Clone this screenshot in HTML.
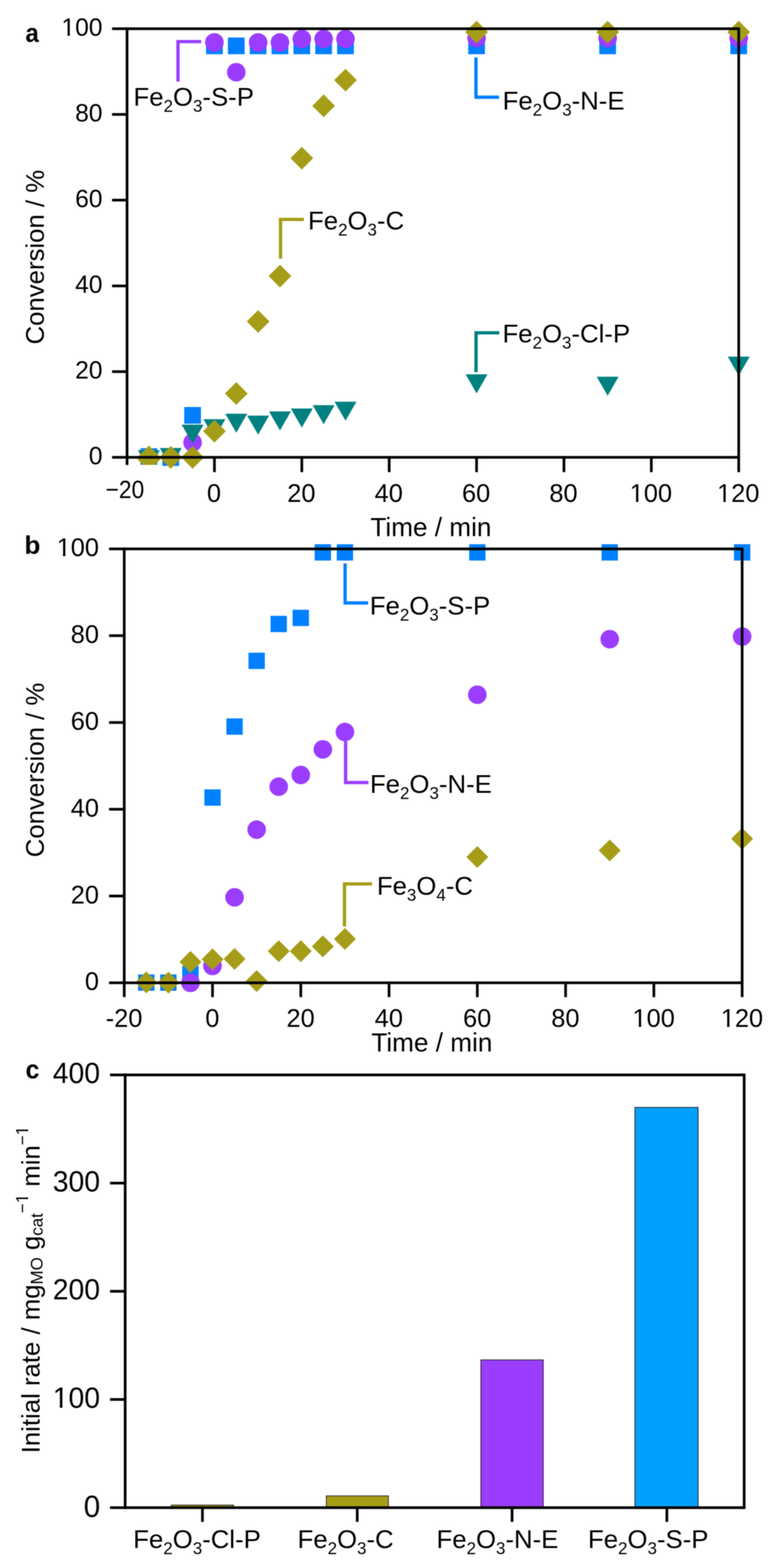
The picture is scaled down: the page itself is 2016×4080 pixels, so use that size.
<!DOCTYPE html>
<html><head><meta charset="utf-8"><title>Figure</title>
<style>html,body{margin:0;padding:0;background:#fff;}svg{display:block;filter:blur(0.8px);}text{font-family:'Liberation Sans', Arial, Helvetica, sans-serif;fill:#000;}</style></head><body>
<svg width="2016" height="4080" viewBox="0 0 2016 4080"><defs><clipPath id="f1c0" clipPathUnits="userSpaceOnUse"><path d="M-6000,-6000H6000V6000H-6000Z M162.63,86.52H175.71V95.50H162.63Z M181.77,86.52H194.51V95.50H181.77Z" clip-rule="evenodd"></path></clipPath><clipPath id="f1c1" clipPathUnits="userSpaceOnUse"><path d="M-6000,-6000H6000V6000H-6000Z M1640.94,1299.37H1654.43V1308.50H1640.94Z M1660.67,1299.37H1673.81V1308.50H1660.67Z" clip-rule="evenodd"></path></clipPath><clipPath id="f1c2" clipPathUnits="userSpaceOnUse"><path d="M-6000,-6000H6000V6000H-6000Z M1868.24,1299.37H1881.73V1308.50H1868.24Z M1887.97,1299.37H1901.11V1308.50H1887.97Z" clip-rule="evenodd"></path></clipPath><clipPath id="f1c3" clipPathUnits="userSpaceOnUse"><path d="M-6000,-6000H6000V6000H-6000Z M150.28,1441.17H163.77V1450.30H150.28Z M170.00,1441.17H183.15V1450.30H170.00Z" clip-rule="evenodd"></path></clipPath><clipPath id="f1c4" clipPathUnits="userSpaceOnUse"><path d="M-6000,-6000H6000V6000H-6000Z M1648.24,2666.17H1661.73V2675.30H1648.24Z M1667.97,2666.17H1681.11V2675.30H1667.97Z" clip-rule="evenodd"></path></clipPath><clipPath id="f1c5" clipPathUnits="userSpaceOnUse"><path d="M-6000,-6000H6000V6000H-6000Z M1877.86,2666.17H1891.35V2675.30H1877.86Z M1897.59,2666.17H1910.73V2675.30H1897.59Z" clip-rule="evenodd"></path></clipPath><clipPath id="f1c6" clipPathUnits="userSpaceOnUse"><path d="M-6000,-6000H6000V6000H-6000Z M-123.45,-6.88H-107.88V3.00H-123.45Z M-100.77,-6.88H-85.60V3.00H-100.77Z" clip-rule="evenodd"></path></clipPath><clipPath id="f1c7" clipPathUnits="userSpaceOnUse"><path d="M-6000,-6000H6000V6000H-6000Z M652.51,-34.49H661.44V-27.00H652.51Z M665.73,-34.49H674.43V-27.00H665.73Z M829.26,-34.49H838.19V-27.00H829.26Z M842.48,-34.49H851.18V-27.00H842.48Z" clip-rule="evenodd"></path></clipPath></defs>
<rect width="2016" height="4080" fill="#fff"></rect>
<g id="panel-a">
<rect x="365.57" y="1166.25" width="43.5" height="43.5" fill="#0080FF"></rect>
<rect x="422.4" y="1168.75" width="43.5" height="43.5" fill="#0080FF"></rect>
<rect x="479.22" y="1059.04" width="43.5" height="43.5" fill="#0080FF"></rect>
<rect x="536.05" y="97.57" width="43.5" height="43.5" fill="#0080FF"></rect>
<rect x="592.88" y="97.57" width="43.5" height="43.5" fill="#0080FF"></rect>
<rect x="649.7" y="97.57" width="43.5" height="43.5" fill="#0080FF"></rect>
<rect x="706.52" y="97.57" width="43.5" height="43.5" fill="#0080FF"></rect>
<rect x="763.35" y="97.57" width="43.5" height="43.5" fill="#0080FF"></rect>
<rect x="820.17" y="97.57" width="43.5" height="43.5" fill="#0080FF"></rect>
<rect x="877" y="97.57" width="43.5" height="43.5" fill="#0080FF"></rect>
<rect x="1217.95" y="97.57" width="43.5" height="43.5" fill="#0080FF"></rect>
<rect x="1558.9" y="97.57" width="43.5" height="43.5" fill="#0080FF"></rect>
<rect x="1899.85" y="97.57" width="43.5" height="43.5" fill="#0080FF"></rect>
<circle cx="500.97" cy="1151.51" r="24.2" fill="#9B3DFF"></circle>
<circle cx="557.8" cy="110.39" r="24.2" fill="#9B3DFF"></circle>
<circle cx="614.62" cy="187.91" r="24.2" fill="#9B3DFF"></circle>
<circle cx="671.45" cy="110.39" r="24.2" fill="#9B3DFF"></circle>
<circle cx="728.27" cy="110.39" r="24.2" fill="#9B3DFF"></circle>
<circle cx="785.1" cy="101.47" r="24.2" fill="#9B3DFF"></circle>
<circle cx="841.92" cy="101.47" r="24.2" fill="#9B3DFF"></circle>
<circle cx="898.75" cy="101.47" r="24.2" fill="#9B3DFF"></circle>
<circle cx="1239.7" cy="99.24" r="24.2" fill="#9B3DFF"></circle>
<circle cx="1580.65" cy="99.24" r="24.2" fill="#9B3DFF"></circle>
<circle cx="1921.6" cy="99.24" r="24.2" fill="#9B3DFF"></circle>
<polygon points="472.47,1105.1 529.47,1105.1 500.97,1154.6" fill="#008080"></polygon>
<polygon points="529.3,1090.8 586.3,1090.8 557.8,1140.3" fill="#008080"></polygon>
<polygon points="586.12,1076.5 643.12,1076.5 614.62,1126" fill="#008080"></polygon>
<polygon points="642.95,1081.5 699.95,1081.5 671.45,1131" fill="#008080"></polygon>
<polygon points="699.77,1070.6 756.77,1070.6 728.27,1120.1" fill="#008080"></polygon>
<polygon points="756.6,1063.1 813.6,1063.1 785.1,1112.6" fill="#008080"></polygon>
<polygon points="813.42,1054.2 870.42,1054.2 841.92,1103.7" fill="#008080"></polygon>
<polygon points="870.25,1045.3 927.25,1045.3 898.75,1094.8" fill="#008080"></polygon>
<polygon points="1211.2,974 1268.2,974 1239.7,1023.5" fill="#008080"></polygon>
<polygon points="1552.15,980.3 1609.15,980.3 1580.65,1029.8" fill="#008080"></polygon>
<polygon points="1893.1,928.1 1950.1,928.1 1921.6,977.6" fill="#008080"></polygon>
<polygon points="415.65,1165.7 472.65,1165.7 444.15,1215.2" fill="#008080"></polygon>
<polygon points="358.82,1171.6 415.82,1171.6 387.32,1221.1" fill="#008080"></polygon>
<polygon points="387.32,1165.8 416.92,1195.4 387.32,1225 357.72,1195.4" fill="#A59D18"></polygon>
<polygon points="387.32,1159.6 416.92,1189.2 387.32,1218.8 357.72,1189.2" fill="#A59D18"></polygon>
<polygon points="444.15,1160.5 473.75,1190.1 444.15,1219.7 414.55,1190.1" fill="#A59D18"></polygon>
<polygon points="500.97,1160.5 530.57,1190.1 500.97,1219.7 471.37,1190.1" fill="#A59D18"></polygon>
<polygon points="557.8,1092.46 587.4,1122.06 557.8,1151.66 528.2,1122.06" fill="#A59D18"></polygon>
<polygon points="614.62,994.31 644.23,1023.91 614.62,1053.51 585.02,1023.91" fill="#A59D18"></polygon>
<polygon points="671.45,806.92 701.05,836.52 671.45,866.12 641.85,836.52" fill="#A59D18"></polygon>
<polygon points="728.27,688.69 757.88,718.29 728.27,747.89 698.67,718.29" fill="#A59D18"></polygon>
<polygon points="785.1,381.95 814.7,411.55 785.1,441.15 755.5,411.55" fill="#A59D18"></polygon>
<polygon points="841.92,245.87 871.52,275.47 841.92,305.07 812.32,275.47" fill="#A59D18"></polygon>
<polygon points="898.75,178.95 928.35,208.55 898.75,238.15 869.15,208.55" fill="#A59D18"></polygon>
<polygon points="1239.7,54.02 1269.3,83.62 1239.7,113.22 1210.1,83.62" fill="#A59D18"></polygon>
<polygon points="1580.65,54.02 1610.25,83.62 1580.65,113.22 1551.05,83.62" fill="#A59D18"></polygon>
<polygon points="1921.6,54.02 1951.2,83.62 1921.6,113.22 1892,83.62" fill="#A59D18"></polygon>
<polyline points="463,212.2 463,108.3 523.3,108.3" fill="none" stroke="#9B3DFF" stroke-width="8.6" stroke-linejoin="miter" stroke-linecap="butt"></polyline>
<polyline points="1238.1,149.4 1238.1,252.9 1298.2,252.9" fill="none" stroke="#0080FF" stroke-width="8.6" stroke-linejoin="miter" stroke-linecap="butt"></polyline>
<polyline points="729.7,673 729.7,571 790.5,571" fill="none" stroke="#A59D18" stroke-width="8.6" stroke-linejoin="miter" stroke-linecap="butt"></polyline>
<polyline points="1238.3,968.6 1238.3,866 1298.8,866" fill="none" stroke="#008080" stroke-width="8.6" stroke-linejoin="miter" stroke-linecap="butt"></polyline>
<line x1="330.5" y1="74.7" x2="1921.6" y2="74.7" stroke="#000" stroke-width="7" stroke-linecap="butt"></line>
<rect x="250" y="1209.7" width="172" height="40" fill="#fff"></rect>
<line x1="291.5" y1="74.7" x2="330.5" y2="74.7" stroke="#000" stroke-width="7" stroke-linecap="butt"></line>
<line x1="330.5" y1="71.2" x2="330.5" y2="1209.7" stroke="#000" stroke-width="7" stroke-linecap="butt"></line>
<line x1="1921.6" y1="71.2" x2="1921.6" y2="1228.5" stroke="#000" stroke-width="7" stroke-linecap="butt"></line>
<line x1="291.5" y1="1190.1" x2="1925.1" y2="1190.1" stroke="#000" stroke-width="7" stroke-linecap="butt"></line>
<line x1="291.5" y1="967.02" x2="330.5" y2="967.02" stroke="#000" stroke-width="7" stroke-linecap="butt"></line>
<line x1="291.5" y1="743.94" x2="330.5" y2="743.94" stroke="#000" stroke-width="7" stroke-linecap="butt"></line>
<line x1="291.5" y1="520.86" x2="330.5" y2="520.86" stroke="#000" stroke-width="7" stroke-linecap="butt"></line>
<line x1="291.5" y1="297.78" x2="330.5" y2="297.78" stroke="#000" stroke-width="7" stroke-linecap="butt"></line>
<line x1="557.8" y1="1190.1" x2="557.8" y2="1228.5" stroke="#000" stroke-width="7" stroke-linecap="butt"></line>
<line x1="785.1" y1="1190.1" x2="785.1" y2="1228.5" stroke="#000" stroke-width="7" stroke-linecap="butt"></line>
<line x1="1012.4" y1="1190.1" x2="1012.4" y2="1228.5" stroke="#000" stroke-width="7" stroke-linecap="butt"></line>
<line x1="1239.7" y1="1190.1" x2="1239.7" y2="1228.5" stroke="#000" stroke-width="7" stroke-linecap="butt"></line>
<line x1="1467" y1="1190.1" x2="1467" y2="1228.5" stroke="#000" stroke-width="7" stroke-linecap="butt"></line>
<line x1="1694.3" y1="1190.1" x2="1694.3" y2="1228.5" stroke="#000" stroke-width="7" stroke-linecap="butt"></line>
</g>
<g id="labels-a">
<text transform="translate(66.2,109) scale(0.917,1)" font-size="68" font-weight="bold">a</text>
<text x="266.6" y="1207.9" font-size="64" text-anchor="end" font-weight="normal">0</text>
<text x="266.6" y="984.82" font-size="64" text-anchor="end" font-weight="normal">20</text>
<text x="266.6" y="761.74" font-size="64" text-anchor="end" font-weight="normal">40</text>
<text x="266.6" y="538.66" font-size="64" text-anchor="end" font-weight="normal">60</text>
<text x="266.6" y="315.58" font-size="64" text-anchor="end" font-weight="normal">80</text>
<text x="266.6" y="92.5" font-size="64" text-anchor="end" font-weight="normal" clip-path="url(#f1c0)">100</text>
<text transform="translate(324.9,1295.5) scale(0.91,1)" font-size="65" text-anchor="middle">−20</text>
<text x="556.6" y="1305.5" font-size="66" text-anchor="middle" font-weight="normal">0</text>
<text x="783.9" y="1305.5" font-size="66" text-anchor="middle" font-weight="normal">20</text>
<text x="1011.2" y="1305.5" font-size="66" text-anchor="middle" font-weight="normal">40</text>
<text x="1238.5" y="1305.5" font-size="66" text-anchor="middle" font-weight="normal">60</text>
<text x="1465.8" y="1305.5" font-size="66" text-anchor="middle" font-weight="normal">80</text>
<text x="1693.1" y="1305.5" font-size="66" text-anchor="middle" font-weight="normal" clip-path="url(#f1c1)">100</text>
<text x="1920.4" y="1305.5" font-size="66" text-anchor="middle" font-weight="normal" clip-path="url(#f1c2)">120</text>
<text x="1121" y="1394.6" font-size="68" text-anchor="middle" font-weight="normal">Time / min</text>
<text transform="translate(113.6,669.2) rotate(-90)" font-size="67" text-anchor="middle">Conversion / %</text>
<text x="347.3" y="275" text-anchor="start"><tspan font-size="67">Fe</tspan><tspan font-size="44" dy="16">2</tspan><tspan font-size="67" dy="-16">O</tspan><tspan font-size="44" dy="16">3</tspan><tspan font-size="67" dy="-16">-S-P</tspan></text>
<text x="1307.6" y="285.4" text-anchor="start"><tspan font-size="67">Fe</tspan><tspan font-size="44" dy="16">2</tspan><tspan font-size="67" dy="-16">O</tspan><tspan font-size="44" dy="16">3</tspan><tspan font-size="67" dy="-16">-N-E</tspan></text>
<text x="801.3" y="596.8" text-anchor="start"><tspan font-size="67">Fe</tspan><tspan font-size="44" dy="16">2</tspan><tspan font-size="67" dy="-16">O</tspan><tspan font-size="44" dy="16">3</tspan><tspan font-size="67" dy="-16">-C</tspan></text>
<text x="1307.2" y="890.9" text-anchor="start"><tspan font-size="67">Fe</tspan><tspan font-size="44" dy="16">2</tspan><tspan font-size="67" dy="-16">O</tspan><tspan font-size="44" dy="16">3</tspan><tspan font-size="67" dy="-16">-Cl-P</tspan></text>
</g>
<g id="panel-b">
<rect x="359.33" y="2535.49" width="42.5" height="42.5" fill="#0080FF"></rect>
<rect x="416.74" y="2535.49" width="42.5" height="42.5" fill="#0080FF"></rect>
<rect x="474.14" y="2513.47" width="42.5" height="42.5" fill="#0080FF"></rect>
<rect x="531.55" y="2053.97" width="42.5" height="42.5" fill="#0080FF"></rect>
<rect x="588.95" y="1869.26" width="42.5" height="42.5" fill="#0080FF"></rect>
<rect x="646.36" y="1698.33" width="42.5" height="42.5" fill="#0080FF"></rect>
<rect x="703.76" y="1602.37" width="42.5" height="42.5" fill="#0080FF"></rect>
<rect x="761.17" y="1586.56" width="42.5" height="42.5" fill="#0080FF"></rect>
<rect x="818.57" y="1416.08" width="42.5" height="42.5" fill="#0080FF"></rect>
<rect x="875.98" y="1416.08" width="42.5" height="42.5" fill="#0080FF"></rect>
<rect x="1220.41" y="1416.08" width="42.5" height="42.5" fill="#0080FF"></rect>
<rect x="1564.84" y="1416.08" width="42.5" height="42.5" fill="#0080FF"></rect>
<rect x="1909.27" y="1416.08" width="42.5" height="42.5" fill="#0080FF"></rect>
<circle cx="495.39" cy="2557.3" r="24.2" fill="#9B3DFF"></circle>
<circle cx="552.8" cy="2513.27" r="24.2" fill="#9B3DFF"></circle>
<circle cx="610.2" cy="2334.89" r="24.2" fill="#9B3DFF"></circle>
<circle cx="667.61" cy="2158.76" r="24.2" fill="#9B3DFF"></circle>
<circle cx="725.01" cy="2046.99" r="24.2" fill="#9B3DFF"></circle>
<circle cx="782.42" cy="2016.51" r="24.2" fill="#9B3DFF"></circle>
<circle cx="839.82" cy="1949.9" r="24.2" fill="#9B3DFF"></circle>
<circle cx="897.23" cy="1904.74" r="24.2" fill="#9B3DFF"></circle>
<circle cx="1241.66" cy="1807.64" r="24.2" fill="#9B3DFF"></circle>
<circle cx="1586.09" cy="1663.13" r="24.2" fill="#9B3DFF"></circle>
<circle cx="1930.52" cy="1656.36" r="24.2" fill="#9B3DFF"></circle>
<polygon points="380.58,2527.67 409.08,2556.17 380.58,2584.67 352.08,2556.17" fill="#A59D18"></polygon>
<polygon points="437.99,2528.24 466.49,2556.74 437.99,2585.24 409.49,2556.74" fill="#A59D18"></polygon>
<polygon points="495.39,2474.61 523.89,2503.11 495.39,2531.61 466.89,2503.11" fill="#A59D18"></polygon>
<polygon points="552.8,2467.83 581.3,2496.33 552.8,2524.83 524.3,2496.33" fill="#A59D18"></polygon>
<polygon points="610.2,2466.71 638.7,2495.21 610.2,2523.71 581.7,2495.21" fill="#A59D18"></polygon>
<polygon points="667.61,2524.28 696.11,2552.78 667.61,2581.28 639.11,2552.78" fill="#A59D18"></polygon>
<polygon points="725.01,2446.38 753.51,2474.88 725.01,2503.38 696.51,2474.88" fill="#A59D18"></polygon>
<polygon points="782.42,2446.38 810.92,2474.88 782.42,2503.38 753.92,2474.88" fill="#A59D18"></polygon>
<polygon points="839.82,2433.96 868.32,2462.46 839.82,2490.96 811.32,2462.46" fill="#A59D18"></polygon>
<polygon points="897.23,2414.77 925.73,2443.27 897.23,2471.77 868.73,2443.27" fill="#A59D18"></polygon>
<polygon points="1241.66,2201.39 1270.16,2229.89 1241.66,2258.39 1213.16,2229.89" fill="#A59D18"></polygon>
<polygon points="1586.09,2184.46 1614.59,2212.96 1586.09,2241.46 1557.59,2212.96" fill="#A59D18"></polygon>
<polygon points="1930.52,2153.97 1959.02,2182.47 1930.52,2210.97 1902.02,2182.47" fill="#A59D18"></polygon>
<polyline points="897.7,1466 897.7,1568.9 957.6,1568.9" fill="none" stroke="#0080FF" stroke-width="8.6" stroke-linejoin="miter" stroke-linecap="butt"></polyline>
<polyline points="899,1929 899,2036.3 958.5,2036.3" fill="none" stroke="#9B3DFF" stroke-width="8.6" stroke-linejoin="miter" stroke-linecap="butt"></polyline>
<polyline points="896.1,2410.7 896.1,2300 967.9,2300" fill="none" stroke="#A59D18" stroke-width="8.6" stroke-linejoin="miter" stroke-linecap="butt"></polyline>
<line x1="283.68" y1="1428.3" x2="1930.52" y2="1428.3" stroke="#000" stroke-width="7" stroke-linecap="butt"></line>
<line x1="323.18" y1="1424.8" x2="323.18" y2="2594.6" stroke="#000" stroke-width="7" stroke-linecap="butt"></line>
<line x1="1930.52" y1="1424.8" x2="1930.52" y2="2594.6" stroke="#000" stroke-width="7" stroke-linecap="butt"></line>
<line x1="283.68" y1="2557.3" x2="1930.52" y2="2557.3" stroke="#000" stroke-width="7" stroke-linecap="butt"></line>
<line x1="283.68" y1="2331.5" x2="323.18" y2="2331.5" stroke="#000" stroke-width="7" stroke-linecap="butt"></line>
<line x1="283.68" y1="2105.7" x2="323.18" y2="2105.7" stroke="#000" stroke-width="7" stroke-linecap="butt"></line>
<line x1="283.68" y1="1879.9" x2="323.18" y2="1879.9" stroke="#000" stroke-width="7" stroke-linecap="butt"></line>
<line x1="283.68" y1="1654.1" x2="323.18" y2="1654.1" stroke="#000" stroke-width="7" stroke-linecap="butt"></line>
<line x1="552.8" y1="2557.3" x2="552.8" y2="2594.6" stroke="#000" stroke-width="7" stroke-linecap="butt"></line>
<line x1="782.42" y1="2557.3" x2="782.42" y2="2594.6" stroke="#000" stroke-width="7" stroke-linecap="butt"></line>
<line x1="1012.04" y1="2557.3" x2="1012.04" y2="2594.6" stroke="#000" stroke-width="7" stroke-linecap="butt"></line>
<line x1="1241.66" y1="2557.3" x2="1241.66" y2="2594.6" stroke="#000" stroke-width="7" stroke-linecap="butt"></line>
<line x1="1471.28" y1="2557.3" x2="1471.28" y2="2594.6" stroke="#000" stroke-width="7" stroke-linecap="butt"></line>
<line x1="1700.9" y1="2557.3" x2="1700.9" y2="2594.6" stroke="#000" stroke-width="7" stroke-linecap="butt"></line>
</g>
<g id="labels-b">
<text transform="translate(63.4,1441) scale(1.0,0.975)" font-size="68" font-weight="bold">b</text>
<text x="257.5" y="2576.3" font-size="66" text-anchor="end" font-weight="normal">0</text>
<text x="257.5" y="2350.5" font-size="66" text-anchor="end" font-weight="normal">20</text>
<text x="257.5" y="2124.7" font-size="66" text-anchor="end" font-weight="normal">40</text>
<text x="257.5" y="1898.9" font-size="66" text-anchor="end" font-weight="normal">60</text>
<text x="257.5" y="1673.1" font-size="66" text-anchor="end" font-weight="normal">80</text>
<text x="257.5" y="1447.3" font-size="66" text-anchor="end" font-weight="normal" clip-path="url(#f1c3)">100</text>
<text x="322.68" y="2672.3" font-size="66" text-anchor="middle" font-weight="normal">-20</text>
<text x="552.3" y="2672.3" font-size="66" text-anchor="middle" font-weight="normal">0</text>
<text x="781.92" y="2672.3" font-size="66" text-anchor="middle" font-weight="normal">20</text>
<text x="1011.54" y="2672.3" font-size="66" text-anchor="middle" font-weight="normal">40</text>
<text x="1241.16" y="2672.3" font-size="66" text-anchor="middle" font-weight="normal">60</text>
<text x="1470.78" y="2672.3" font-size="66" text-anchor="middle" font-weight="normal">80</text>
<text x="1700.4" y="2672.3" font-size="66" text-anchor="middle" font-weight="normal" clip-path="url(#f1c4)">100</text>
<text x="1930.02" y="2672.3" font-size="66" text-anchor="middle" font-weight="normal" clip-path="url(#f1c5)">120</text>
<text x="1123.4" y="2736.3" font-size="68" text-anchor="middle" font-weight="normal">Time / min</text>
<text transform="translate(114,2003.5) rotate(-90)" font-size="67" text-anchor="middle">Conversion / %</text>
<text x="962" y="1598.8" text-anchor="start"><tspan font-size="67">Fe</tspan><tspan font-size="44" dy="16">2</tspan><tspan font-size="67" dy="-16">O</tspan><tspan font-size="44" dy="16">3</tspan><tspan font-size="67" dy="-16">-S-P</tspan></text>
<text x="962.4" y="2063.2" text-anchor="start"><tspan font-size="67">Fe</tspan><tspan font-size="44" dy="16">2</tspan><tspan font-size="67" dy="-16">O</tspan><tspan font-size="44" dy="16">3</tspan><tspan font-size="67" dy="-16">-N-E</tspan></text>
<text x="980.4" y="2327.8" text-anchor="start"><tspan font-size="67">Fe</tspan><tspan font-size="44" dy="16">3</tspan><tspan font-size="67" dy="-16">O</tspan><tspan font-size="44" dy="16">4</tspan><tspan font-size="67" dy="-16">-C</tspan></text>
</g>
<g id="panel-c">
<rect x="445.6" y="3916.24" width="162" height="6.76" fill="#A59D18" stroke="#222" stroke-width="2.0"></rect>
<rect x="848.85" y="3892.32" width="161.5" height="30.68" fill="#A59D18" stroke="#222" stroke-width="2.0"></rect>
<rect x="1250.8" y="3538.47" width="162.4" height="384.53" fill="#9B3DFF" stroke="#222" stroke-width="2.0"></rect>
<rect x="1651.55" y="2881.45" width="164.5" height="1041.55" fill="#00A0FF" stroke="#222" stroke-width="2.0"></rect>
<line x1="325.6" y1="2797" x2="1935.8" y2="2797" stroke="#000" stroke-width="7" stroke-linecap="butt"></line>
<line x1="286.2" y1="2797" x2="325.6" y2="2797" stroke="#000" stroke-width="7" stroke-linecap="butt"></line>
<line x1="325.6" y1="2793.5" x2="325.6" y2="3926.5" stroke="#000" stroke-width="7" stroke-linecap="butt"></line>
<line x1="1935.8" y1="2793.5" x2="1935.8" y2="3926.5" stroke="#000" stroke-width="7" stroke-linecap="butt"></line>
<line x1="286.2" y1="3923" x2="1935.8" y2="3923" stroke="#000" stroke-width="7" stroke-linecap="butt"></line>
<line x1="286.2" y1="3641.5" x2="325.6" y2="3641.5" stroke="#000" stroke-width="7" stroke-linecap="butt"></line>
<line x1="286.2" y1="3360" x2="325.6" y2="3360" stroke="#000" stroke-width="7" stroke-linecap="butt"></line>
<line x1="286.2" y1="3078.5" x2="325.6" y2="3078.5" stroke="#000" stroke-width="7" stroke-linecap="butt"></line>
<line x1="526.6" y1="3923" x2="526.6" y2="3960" stroke="#000" stroke-width="7" stroke-linecap="butt"></line>
<line x1="929.3" y1="3923" x2="929.3" y2="3960" stroke="#000" stroke-width="7" stroke-linecap="butt"></line>
<line x1="1332" y1="3923" x2="1332" y2="3960" stroke="#000" stroke-width="7" stroke-linecap="butt"></line>
<line x1="1734.7" y1="3923" x2="1734.7" y2="3960" stroke="#000" stroke-width="7" stroke-linecap="butt"></line>
</g>
<g id="labels-c">
<text transform="translate(66.5,2806) scale(0.95,1)" font-size="68" font-weight="bold">c</text>
<text transform="translate(260.5,3946.5) scale(1.0,1.03)" font-size="77" text-anchor="end">0</text>
<text transform="translate(260.2,3662.7) scale(0.97,1)" font-size="76" text-anchor="end" clip-path="url(#f1c6)">100</text>
<text transform="translate(260.2,3381.2) scale(0.97,1)" font-size="76" text-anchor="end">200</text>
<text transform="translate(260.2,3099.7) scale(0.97,1)" font-size="76" text-anchor="end">300</text>
<text transform="translate(260.2,2818.2) scale(0.97,1)" font-size="76" text-anchor="end">400</text>
<text x="346.6" y="4028.2" text-anchor="start"><tspan font-size="67">Fe</tspan><tspan font-size="44" dy="16">2</tspan><tspan font-size="67" dy="-16">O</tspan><tspan font-size="44" dy="16">3</tspan><tspan font-size="67" dy="-16">-Cl-P</tspan></text>
<text x="774" y="4028.2" text-anchor="start"><tspan font-size="67">Fe</tspan><tspan font-size="44" dy="16">2</tspan><tspan font-size="67" dy="-16">O</tspan><tspan font-size="44" dy="16">3</tspan><tspan font-size="67" dy="-16">-C</tspan></text>
<text x="1135.5" y="4028.2" text-anchor="start"><tspan font-size="67">Fe</tspan><tspan font-size="44" dy="16">2</tspan><tspan font-size="67" dy="-16">O</tspan><tspan font-size="44" dy="16">3</tspan><tspan font-size="67" dy="-16">-N-E</tspan></text>
<text x="1529.6" y="4028.2" text-anchor="start"><tspan font-size="67">Fe</tspan><tspan font-size="44" dy="16">2</tspan><tspan font-size="67" dy="-16">O</tspan><tspan font-size="44" dy="16">3</tspan><tspan font-size="67" dy="-16">-S-P</tspan></text>
<text transform="translate(103,3781.6) rotate(-90)" text-anchor="start" clip-path="url(#f1c7)"><tspan font-size="67">Initial rate / mg</tspan><tspan font-size="44" dy="8">MO</tspan><tspan font-size="67" dy="-8"> g</tspan><tspan font-size="44" dy="8">cat</tspan><tspan font-size="44" dy="-38">−1</tspan><tspan font-size="67" dy="30"> min</tspan><tspan font-size="44" dy="-30">−1</tspan></text>
</g>
</svg></body></html>
